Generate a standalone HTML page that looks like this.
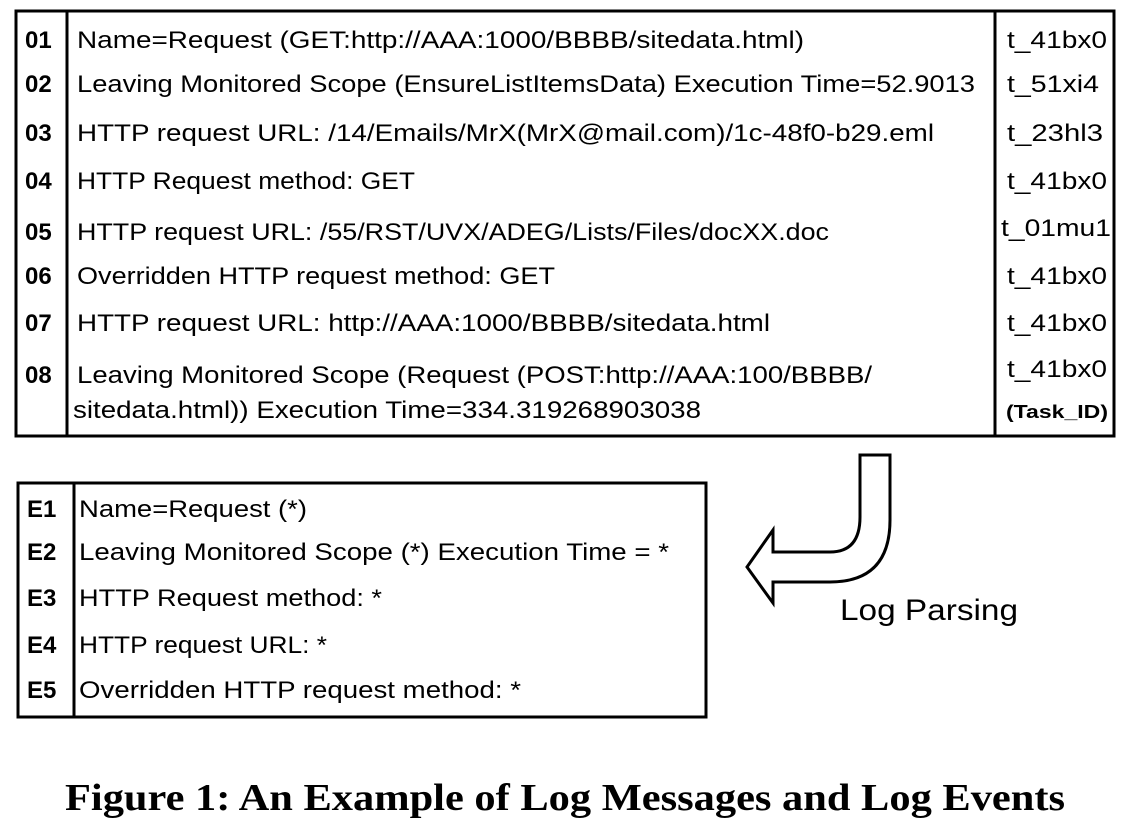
<!DOCTYPE html>
<html><head><meta charset="utf-8"><style>
body{margin:0;background:#fff;}
svg{display:block}
text{font-family:"Liberation Sans",sans-serif;fill:#000}
</style></head><body>
<svg width="1127" height="824" viewBox="0 0 1127 824">
<g font-size="24">
<rect x="16" y="11" width="1098" height="425" fill="none" stroke="#000" stroke-width="3"/>
<line x1="67" y1="11" x2="67" y2="436" stroke="#000" stroke-width="3"/>
<line x1="995" y1="11" x2="995" y2="436" stroke="#000" stroke-width="3"/>
<g font-weight="bold">
<text x="25" y="48">01</text><text x="25" y="92">02</text><text x="25" y="141">03</text><text x="25" y="189">04</text>
<text x="25" y="240">05</text><text x="25" y="284">06</text><text x="25" y="331">07</text><text x="25" y="383">08</text>
</g>
<text x="77" y="48" textLength="727" lengthAdjust="spacingAndGlyphs">Name=Request (GET:http://AAA:1000/BBBB/sitedata.html)</text>
<text x="77" y="92" textLength="898" lengthAdjust="spacingAndGlyphs">Leaving Monitored Scope (EnsureListItemsData) Execution Time=52.9013</text>
<text x="77" y="141" textLength="857" lengthAdjust="spacingAndGlyphs">HTTP request URL: /14/Emails/MrX(MrX@mail.com)/1c-48f0-b29.eml</text>
<text x="77" y="189" textLength="338" lengthAdjust="spacingAndGlyphs">HTTP Request method: GET</text>
<text x="77" y="240" textLength="752" lengthAdjust="spacingAndGlyphs">HTTP request URL: /55/RST/UVX/ADEG/Lists/Files/docXX.doc</text>
<text x="77" y="284" textLength="478" lengthAdjust="spacingAndGlyphs">Overridden HTTP request method: GET</text>
<text x="77" y="331" textLength="693" lengthAdjust="spacingAndGlyphs">HTTP request URL: http://AAA:1000/BBBB/sitedata.html</text>
<text x="77" y="383" textLength="795" lengthAdjust="spacingAndGlyphs">Leaving Monitored Scope (Request (POST:http://AAA:100/BBBB/</text>
<text x="73" y="418" textLength="628" lengthAdjust="spacingAndGlyphs">sitedata.html)) Execution Time=334.319268903038</text>
<text x="1007" y="48" textLength="100" lengthAdjust="spacingAndGlyphs">t_41bx0</text>
<text x="1007" y="92" textLength="92" lengthAdjust="spacingAndGlyphs">t_51xi4</text>
<text x="1007" y="141" textLength="96" lengthAdjust="spacingAndGlyphs">t_23hl3</text>
<text x="1007" y="189" textLength="100" lengthAdjust="spacingAndGlyphs">t_41bx0</text>
<text x="1001" y="236" textLength="110" lengthAdjust="spacingAndGlyphs">t_01mu1</text>
<text x="1007" y="284" textLength="100" lengthAdjust="spacingAndGlyphs">t_41bx0</text>
<text x="1007" y="331" textLength="100" lengthAdjust="spacingAndGlyphs">t_41bx0</text>
<text x="1007" y="377" textLength="100" lengthAdjust="spacingAndGlyphs">t_41bx0</text>
<text x="1006" y="418" font-size="18" font-weight="bold" textLength="102" lengthAdjust="spacingAndGlyphs">(Task_ID)</text>
</g>
<path d="M860 455 H890 V520 Q890 582 830 582 H773 V603 L747 567 L773 530 V552 H830 Q860 552 860 517 Z" fill="#fff" stroke="#000" stroke-width="3" stroke-linejoin="miter"/>
<text x="840" y="620" font-size="30" textLength="178" lengthAdjust="spacingAndGlyphs">Log Parsing</text>
<g font-size="24">
<rect x="18" y="483" width="688" height="234" fill="none" stroke="#000" stroke-width="3"/>
<line x1="74" y1="483" x2="74" y2="717" stroke="#000" stroke-width="3"/>
<g font-weight="bold">
<text x="27" y="517">E1</text><text x="27" y="560">E2</text><text x="27" y="606">E3</text><text x="27" y="653">E4</text><text x="27" y="698">E5</text>
</g>
<text x="79" y="517" textLength="228" lengthAdjust="spacingAndGlyphs">Name=Request (*)</text>
<text x="79" y="560" textLength="590" lengthAdjust="spacingAndGlyphs">Leaving Monitored Scope (*) Execution Time = *</text>
<text x="79" y="606" textLength="303" lengthAdjust="spacingAndGlyphs">HTTP Request method: *</text>
<text x="79" y="653" textLength="248" lengthAdjust="spacingAndGlyphs">HTTP request URL: *</text>
<text x="79" y="698" textLength="442" lengthAdjust="spacingAndGlyphs">Overridden HTTP request method: *</text>
</g>
<text x="65" y="810" font-family="Liberation Serif" style="font-family:'Liberation Serif',serif" font-size="38" font-weight="bold" textLength="1000" lengthAdjust="spacingAndGlyphs">Figure 1: An Example of Log Messages and Log Events</text>
</svg>
</body></html>
